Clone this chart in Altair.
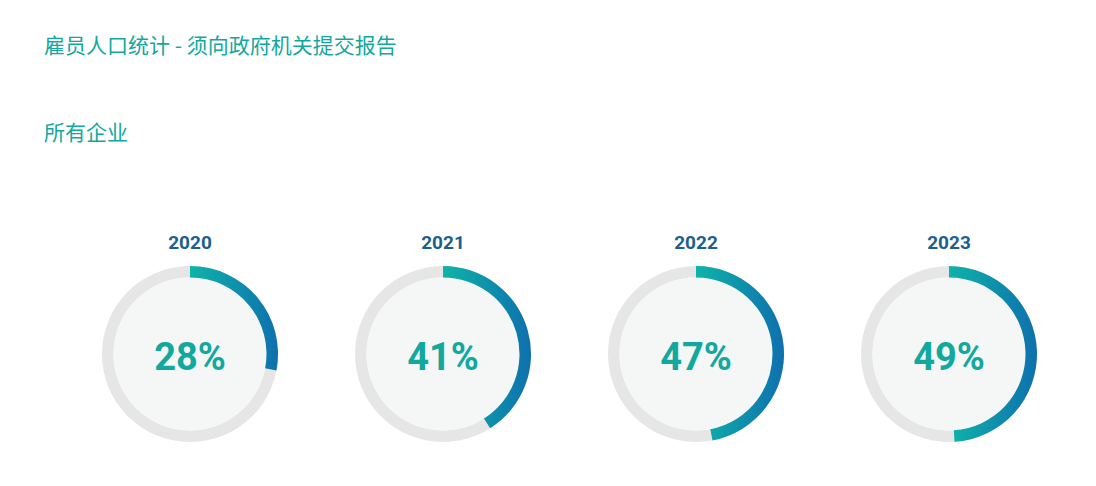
import altair as alt
import pandas as pd

# values
years = ["2020", "2021", "2022", "2023"]
shares = [28, 41, 47, 49]

TITLE = "雇员人口统计 - 须向政府机关提交报告"
SUBTITLE = "所有企业"

TEAL = "#12a89e"
BLUE = "#1b5f91"
RING = "#e6e6e6"
DISK = "#f5f7f7"

df = pd.DataFrame({"year": years, "share": shares})
df["label"] = [f"{v}%" for v in shares]
df["zero"] = 0
df["full"] = 100

theta_scale = alt.Scale(domain=[0, 100], range=[0, 6.283185])
base = alt.Chart(df)

# grey track and the pale inner disk
ring = base.mark_arc(outerRadius=88, innerRadius=76.5, color=RING).encode(
    theta=alt.Theta("zero:Q", scale=theta_scale, stack=False),
    theta2="full:Q",
)
disk = base.mark_arc(outerRadius=76.5, color=DISK).encode(
    theta=alt.Theta("zero:Q", scale=theta_scale, stack=False),
    theta2="full:Q",
)

# share arc, teal -> blue horizontal gradient
value = base.mark_arc(
    outerRadius=88,
    innerRadius=76.5,
    fill=alt.Gradient(
        gradient="linear",
        x1=0, y1=0, x2=1, y2=0,
        stops=[
            alt.GradientStop(color="#0fb3a9", offset=0),
            alt.GradientStop(color="#0e70ae", offset=1),
        ],
    ),
).encode(
    theta=alt.Theta("zero:Q", scale=theta_scale, stack=False),
    theta2="share:Q",
)

pct = base.mark_text(
    font="Roboto", fontSize=38, fontWeight="bold", color=TEAL,
    baseline="middle", dy=5,
).encode(text="label:N")

panel = alt.layer(ring, disk, value, pct).properties(width=240, height=200)

chart = (
    panel.facet(
        column=alt.Column(
            "year:N",
            title=None,
            header=alt.Header(
                labelFont="Roboto",
                labelFontSize=19,
                labelFontWeight="bold",
                labelColor=BLUE,
                labelPadding=1,
            ),
        ),
        spacing=13,
    )
    .properties(
        title=alt.Title(
            TITLE,
            subtitle=SUBTITLE,
            anchor="start",
            dx=-26,
            font="Noto Sans CJK SC",
            fontSize=21,
            fontWeight="normal",
            color=TEAL,
            subtitleFont="Noto Sans CJK SC",
            subtitleFontSize=21,
            subtitleColor=TEAL,
            subtitlePadding=66,
            offset=90,
        ),
        padding={"left": 36, "top": 28, "right": 5, "bottom": 5},
    )
    .configure_view(strokeWidth=0)
)

chart.save("out.html", embed_options={"renderer": "svg", "actions": False})
